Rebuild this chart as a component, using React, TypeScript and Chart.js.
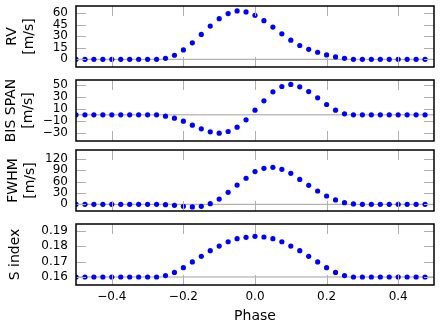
import React, { useEffect, useRef } from 'react';
import { Chart, registerables } from 'chart.js';

Chart.register(...registerables);

const PHASE = [
  -0.5, -0.475, -0.45, -0.425, -0.4, -0.375, -0.35, -0.325, -0.3, -0.275,
  -0.25, -0.225, -0.2, -0.175, -0.15, -0.125, -0.1, -0.075, -0.05, -0.025,
  0, 0.025, 0.05, 0.075, 0.1, 0.125, 0.15, 0.175, 0.2, 0.225,
  0.25, 0.275, 0.3, 0.325, 0.35, 0.375, 0.4, 0.425, 0.45, 0.475,
];

const RV = [
  0, 0, 0, 0, 0, 0, 0, 0, 0, 0,
  1.3, 5.3, 12.3, 21.5, 32.4, 43.4, 53, 59.6, 63.1, 61.8,
  57.4, 50.4, 42, 33.3, 25, 18, 13.1, 9.2, 5.7, 3.1,
  1.3, 0, 0, 0, 0, 0, 0, 0, 0, 0,
];

const BIS_SPAN = [
  0, 0, 0, 0, 0, 0, 0, 0, 0, 0,
  -2.2, -5.6, -10.6, -17.3, -23.5, -28.5, -30.7, -28, -20.7, -8.4,
  7.8, 23.5, 38.6, 47.5, 50.9, 47, 39, 28.5, 17.3, 7.8,
  1.7, 0, 0, 0, 0, 0, 0, 0, 0, 0,
];

const FWHM = [
  0, 0, 0, 0, 0, 0, 0, 0, 0, 0,
  -0.9, -2.6, -5.3, -7, -5.3, 1.8, 14, 31.8, 51, 69,
  86.6, 95.3, 98, 92.7, 82, 66, 50.3, 35.3, 22, 11.5,
  4.4, 0.9, 0, 0, 0, 0, 0, 0, 0, 0,
];

const S_INDEX = [
  0.16, 0.16, 0.16, 0.16, 0.16, 0.16, 0.16, 0.16, 0.16, 0.16,
  0.1609, 0.163, 0.1661, 0.1698, 0.1735, 0.1772, 0.1802, 0.183, 0.185, 0.1859,
  0.1865, 0.1861, 0.185, 0.183, 0.1802, 0.1772, 0.1735, 0.1698, 0.1661, 0.163,
  0.1609, 0.16, 0.16, 0.16, 0.16, 0.16, 0.16, 0.16, 0.16, 0.16,
];

const X_TICKS = [-0.4, -0.2, 0, 0.2, 0.4];
const X_TICK_LABELS = ['\u22120.4', '\u22120.2', '0.0', '0.2', '0.4'];
const X_TITLE = 'Phase';

const RV_TICKS = [0, 15, 30, 45, 60];
const RV_TICK_LABELS = ['0', '15', '30', '45', '60'];
const BIS_TICKS = [-30, -10, 10, 30, 50];
const BIS_TICK_LABELS = ['\u221230', '\u221210', '10', '30', '50'];
const FWHM_TICKS = [0, 30, 60, 90, 120];
const FWHM_TICK_LABELS = ['0', '30', '60', '90', '120'];
const S_TICKS = [0.16, 0.17, 0.18, 0.19];
const S_TICK_LABELS = ['0.16', '0.17', '0.18', '0.19'];

const BASELINES = [0, 0, 0, 0.16];

const FONT = 'DejaVu Sans';
const W = 447;
const H = 335;

type PanelSpec = {
  values: number[];
  ticks: number[];
  tickLabels: string[];
  title: string | string[];
  titlePad: number;
  baseline: number;
  min: number;
  max: number;
  top: number;
  bottom: number;
  last: boolean;
};

const PANELS: PanelSpec[] = [
  { values: RV, ticks: RV_TICKS, tickLabels: RV_TICK_LABELS, title: ['RV', '[m/s]'], titlePad: 4, baseline: BASELINES[0], min: -10, max: 69.5, top: 6, bottom: 67, last: false },
  { values: BIS_SPAN, ticks: BIS_TICKS, tickLabels: BIS_TICK_LABELS, title: ['BIS SPAN', '[m/s]'], titlePad: 3, baseline: BASELINES[1], min: -43.9, max: 58.4, top: 80, bottom: 141, last: false },
  { values: FWHM, ticks: FWHM_TICKS, tickLabels: FWHM_TICK_LABELS, title: ['FWHM', '[m/s]'], titlePad: 5, baseline: BASELINES[2], min: -17.7, max: 143.8, top: 150, bottom: 211, last: false },
  { values: S_INDEX, ticks: S_TICKS, tickLabels: S_TICK_LABELS, title: 'S index', titlePad: 7, baseline: BASELINES[3], min: 0.15478, max: 0.19457, top: 224, bottom: 285, last: true },
];

function makeFramePlugin(yTicks: number[]) {
  return {
    id: 'frame',
    afterDatasetsDraw(chart: any) {
      const { ctx, chartArea: a, scales } = chart;
      const xs = scales.x;
      const ys = scales.y;
      const L = 10;
      ctx.save();
      ctx.strokeStyle = '#b0b0b0';
      ctx.lineWidth = 1;
      ctx.beginPath();
      for (const v of X_TICKS) {
        const px = Math.round(xs.getPixelForValue(v)) + 0.5;
        ctx.moveTo(px, a.top);
        ctx.lineTo(px, a.top + L);
        ctx.moveTo(px, a.bottom);
        ctx.lineTo(px, a.bottom - L);
      }
      for (const v of yTicks) {
        const py = Math.round(ys.getPixelForValue(v)) + 0.5;
        ctx.moveTo(a.left, py);
        ctx.lineTo(a.left + L, py);
        ctx.moveTo(a.right, py);
        ctx.lineTo(a.right - L, py);
      }
      ctx.stroke();
      ctx.strokeStyle = '#000000';
      ctx.lineWidth = 1.5;
      ctx.strokeRect(a.left, a.top, a.right - a.left, a.bottom - a.top);
      ctx.restore();
    },
  };
}

function Panel({ spec }: { spec: PanelSpec }) {
  const ref = useRef<HTMLCanvasElement | null>(null);
  useEffect(() => {
    if (!ref.current) return;
    const chart = new Chart(ref.current, {
      type: 'scatter',
      data: {
        datasets: [
          {
            data: PHASE.map((x, i) => ({ x, y: spec.values[i] })),
            backgroundColor: '#0000ff',
            borderColor: '#0000ff',
            borderWidth: 0,
            pointRadius: 2.6,
            clip: 0,
            order: 1,
          } as any,
          {
            type: 'line',
            data: [
              { x: -0.5, y: spec.baseline },
              { x: 0.5, y: spec.baseline },
            ],
            borderColor: '#a0a0a0',
            borderWidth: 1,
            pointRadius: 0,
            fill: false,
            clip: 0,
            order: 2,
          } as any,
        ],
      },
      options: {
        animation: false,
        responsive: false,
        maintainAspectRatio: false,
        devicePixelRatio: 1,
        events: [],
        layout: {
          padding: {
            top: spec.top,
            bottom: spec.last ? 0 : H - spec.bottom,
            left: 0,
            right: 13,
          },
        },
        plugins: {
          legend: { display: false },
          tooltip: { enabled: false },
          title: { display: false },
        },
        scales: {
          x: {
            type: 'linear',
            min: -0.5,
            max: 0.5,
            display: spec.last,
            afterBuildTicks: (s: any) => {
              s.ticks = X_TICKS.map((v) => ({ value: v }));
            },
            afterFit: (s: any) => {
              s.height = spec.last ? H - spec.bottom : 0;
              s.paddingLeft = 0;
              s.paddingRight = 0;
            },
            grid: { display: false, drawTicks: false },
            border: { display: false },
            ticks: {
              autoSkip: false,
              maxRotation: 0,
              padding: 5,
              color: '#000000',
              font: { family: FONT, size: 12 },
              callback: (_v: any, i: number) => X_TICK_LABELS[i],
            },
            title: {
              display: spec.last,
              text: X_TITLE,
              color: '#000000',
              font: { family: FONT, size: 14 },
              padding: { top: 0, bottom: 10 },
            },
          },
          y: {
            type: 'linear',
            min: spec.min,
            max: spec.max,
            afterBuildTicks: (s: any) => {
              s.ticks = spec.ticks.map((v) => ({ value: v }));
            },
            afterFit: (s: any) => {
              s.width = 76;
              s.paddingTop = 0;
              s.paddingBottom = 0;
            },
            grid: { display: false, drawTicks: false },
            border: { display: false },
            ticks: {
              autoSkip: false,
              padding: 8,
              color: '#000000',
              font: { family: FONT, size: 12 },
              callback: (_v: any, i: number) => spec.tickLabels[i],
            },
            title: {
              display: true,
              text: spec.title,
              color: '#000000',
              font: { family: FONT, size: 14 },
              padding: { top: spec.titlePad, bottom: 0 },
            },
          },
        },
      } as any,
      plugins: [makeFramePlugin(spec.ticks)],
    });
    return () => chart.destroy();
  }, [spec]);
  return (
    <canvas
      ref={ref}
      width={W}
      height={H}
      style={{ position: 'absolute', left: 0, top: 0, width: W, height: H }}
    />
  );
}

export default function App() {
  return (
    <div style={{ position: 'fixed', left: 0, top: 0, width: W, height: H, background: '#ffffff' }}>
      {PANELS.map((p, i) => (
        <Panel key={i} spec={p} />
      ))}
    </div>
  );
}
